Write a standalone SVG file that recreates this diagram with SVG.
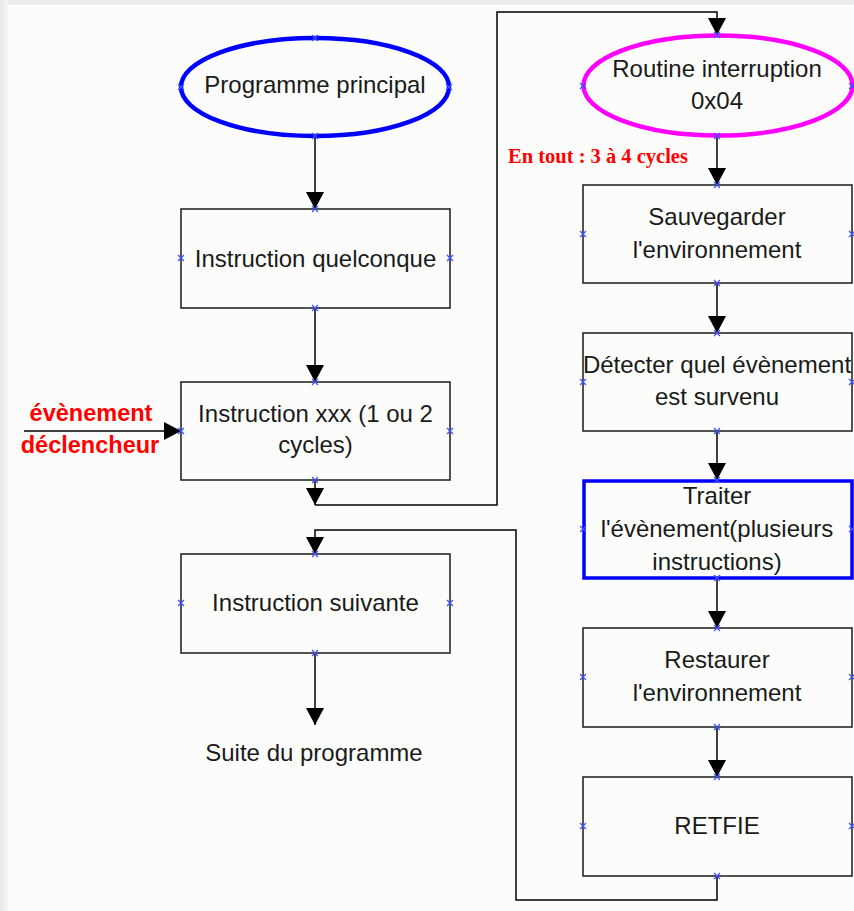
<svg xmlns="http://www.w3.org/2000/svg" xmlns:xlink="http://www.w3.org/1999/xlink" width="854" height="911" viewBox="0 0 854 911">
<defs>
<style>
.bg{fill:#fcfdfb}
.box{fill:none;stroke:#1a1a1a;stroke-width:1.5}
.hl{fill:none;stroke:#0000ff;stroke-width:3.5}
.ell1{fill:none;stroke:#0000ff;stroke-width:4.5}
.ell2{fill:none;stroke:#ff00ff;stroke-width:4.5}
.t{font-family:"Liberation Sans",Arial,sans-serif;font-size:24px;fill:#1a1a1a;text-anchor:middle}
.red{font-family:"Liberation Sans",Arial,sans-serif;font-weight:bold;font-size:23.5px;fill:#ff0000;text-anchor:middle}
.reds{font-family:"Liberation Serif","Times New Roman",serif;font-weight:bold;font-size:20.5px;fill:#ff0000}
.c{fill:none;stroke:#000;stroke-width:1.5}
.cm{fill:none;stroke:#000;stroke-width:1.5;marker-end:url(#ah)}
.x{fill:none;stroke:#3a50ff;stroke-width:1.2}
</style>
<marker id="ah" viewBox="0 0 17 18" refX="17" refY="9" markerWidth="17" markerHeight="18" orient="auto" markerUnits="userSpaceOnUse">
<path d="M0,0 L17,9 L0,18 Z" fill="#000"/>
</marker>
<path id="xm" class="x" d="M-3,-3 L3,3 M-3,3 L3,-3"/>
<linearGradient id="gl" x1="0" y1="0" x2="1" y2="0">
<stop offset="0" stop-color="#e6e6e6"/><stop offset="1" stop-color="#f6f6f6"/>
</linearGradient>
</defs>
<rect class="bg" x="0" y="0" width="854" height="911"/>
<rect x="0" y="0" width="854" height="5" fill="#ececec"/>
<rect x="0" y="0" width="8" height="911" fill="url(#gl)"/>

<g id="connectors">
<path class="cm" d="M315,136 L315,209"/>
<path class="cm" d="M315,308 L315,382"/>
<path class="cm" d="M24,431 L181,431"/>
<path class="cm" d="M315,480 L315,505"/>
<path class="cm" d="M315,505 L497,505 L497,12 L717,12 L717,35"/>
<path class="cm" d="M717,136 L717,185"/>
<path class="cm" d="M717,283 L717,333"/>
<path class="cm" d="M717,431 L717,480"/>
<path class="cm" d="M717,578 L717,628"/>
<path class="cm" d="M717,727 L717,777"/>
<path class="cm" d="M717,876 L717,900 L516,900 L516,530 L315,530 L315,554"/>
<path class="cm" d="M315,653 L315,725"/>
</g>

<g id="prog-principal">
<ellipse class="ell1" cx="315" cy="87" rx="134" ry="49"/>
<text class="t" x="315" y="93">Programme principal</text>
<use xlink:href="#xm" x="315" y="38"/><use xlink:href="#xm" x="181" y="87"/><use xlink:href="#xm" x="449" y="87"/><use xlink:href="#xm" x="315" y="136"/>
</g>

<g id="instr-quelconque">
<rect class="box" x="181" y="209" width="269" height="99"/>
<text class="t" x="315.5" y="267">Instruction quelconque</text>
<use xlink:href="#xm" x="315" y="209"/><use xlink:href="#xm" x="181" y="258"/><use xlink:href="#xm" x="450" y="258"/><use xlink:href="#xm" x="315" y="308"/>
</g>

<g id="instr-xxx">
<rect class="box" x="181" y="382" width="269" height="98"/>
<text class="t" x="315.5" y="422">Instruction xxx (1 ou 2</text>
<text class="t" x="315.5" y="453">cycles)</text>
<use xlink:href="#xm" x="315" y="382"/><use xlink:href="#xm" x="181" y="431"/><use xlink:href="#xm" x="450" y="431"/><use xlink:href="#xm" x="315" y="480"/>
</g>

<g id="evenement">
<text class="red" x="91" y="421">évènement</text>
<text class="red" x="90" y="453">déclencheur</text>
</g>

<g id="instr-suivante">
<rect class="box" x="181" y="554" width="269" height="99"/>
<text class="t" x="315.5" y="611">Instruction suivante</text>
<use xlink:href="#xm" x="315" y="554"/><use xlink:href="#xm" x="181" y="603"/><use xlink:href="#xm" x="450" y="603"/><use xlink:href="#xm" x="315" y="653"/>
</g>

<g id="suite">
<text class="t" x="314" y="761">Suite du programme</text>
</g>

<g id="routine">
<ellipse class="ell2" cx="718" cy="85.5" rx="134.5" ry="50"/>
<text class="t" x="717" y="77">Routine interruption</text>
<text class="t" x="717" y="109">0x04</text>
<use xlink:href="#xm" x="717" y="35"/><use xlink:href="#xm" x="583" y="86"/><use xlink:href="#xm" x="852" y="86"/><use xlink:href="#xm" x="717" y="136"/>
</g>

<g id="en-tout">
<text class="reds" x="508" y="163">En tout : 3 à 4 cycles</text>
</g>

<g id="sauvegarder">
<rect class="box" x="583" y="185" width="269" height="98"/>
<text class="t" x="717" y="225">Sauvegarder</text>
<text class="t" x="717" y="258">l'environnement</text>
<use xlink:href="#xm" x="717" y="185"/><use xlink:href="#xm" x="583" y="234"/><use xlink:href="#xm" x="852" y="234"/><use xlink:href="#xm" x="717" y="283"/>
</g>

<g id="detecter">
<rect class="box" x="583" y="333" width="269" height="98"/>
<text class="t" x="717" y="373">Détecter quel évènement</text>
<text class="t" x="717" y="405">est survenu</text>
<use xlink:href="#xm" x="717" y="333"/><use xlink:href="#xm" x="583" y="382"/><use xlink:href="#xm" x="852" y="382"/><use xlink:href="#xm" x="717" y="431"/>
</g>

<g id="traiter">
<rect class="hl" x="584" y="481" width="268" height="97"/>
<text class="t" x="717" y="504">Traiter</text>
<text class="t" x="717" y="537">l'évènement(plusieurs</text>
<text class="t" x="717" y="570">instructions)</text>
<use xlink:href="#xm" x="717" y="480"/><use xlink:href="#xm" x="583" y="529"/><use xlink:href="#xm" x="852" y="529"/><use xlink:href="#xm" x="717" y="578"/>
</g>

<g id="restaurer">
<rect class="box" x="583" y="628" width="269" height="99"/>
<text class="t" x="717" y="668">Restaurer</text>
<text class="t" x="717" y="701">l'environnement</text>
<use xlink:href="#xm" x="717" y="628"/><use xlink:href="#xm" x="583" y="677"/><use xlink:href="#xm" x="852" y="677"/><use xlink:href="#xm" x="717" y="727"/>
</g>

<g id="retfie">
<rect class="box" x="583" y="777" width="269" height="99"/>
<text class="t" x="717" y="834">RETFIE</text>
<use xlink:href="#xm" x="717" y="777"/><use xlink:href="#xm" x="583" y="826"/><use xlink:href="#xm" x="852" y="826"/><use xlink:href="#xm" x="717" y="876"/>
</g>
</svg>
